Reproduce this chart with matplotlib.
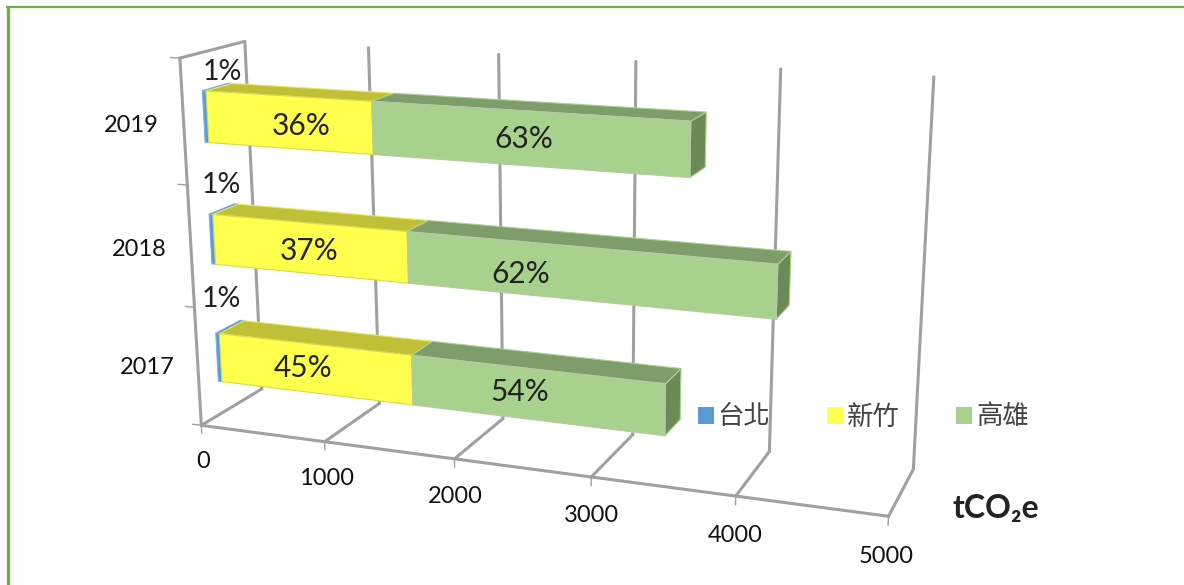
import numpy as np
import matplotlib
matplotlib.use('Agg')
import matplotlib.pyplot as plt
from matplotlib.patches import Patch
from matplotlib.lines import Line2D
from mpl_toolkits.mplot3d import Axes3D

# data
years = ['2017', '2018', '2019']
taipei = [30, 30, 30]
hsinchu = [1540, 1530, 1290]
kaohsiung = [1860, 2610, 2255]
pct_taipei = ['1%', '1%', '1%']
pct_hsinchu = ['45%', '37%', '36%']
pct_kaohsiung = ['54%', '62%', '63%']
series_names = ['台北', '新竹', '高雄']
x_ticks = [0, 1000, 2000, 3000, 4000, 5000]

# where the labels sit on the bars (value, category height)
taipei_label_x = [60, 110, 170]
taipei_label_z = [1.0, 0.952, 0.862]
hsinchu_label_x = [705, 795, 775]
hsinchu_label_z = [0.485, 0.475, 0.475]
kaohsiung_label_x = [2380, 2395, 2425]
kaohsiung_label_z = [0.504, 0.443, 0.487]

W, H = 1184, 585
plt.rcParams['font.family'] = ['Lato', 'Noto Sans CJK TC', 'DejaVu Sans']

fig = plt.figure(figsize=(W / 100, H / 100), dpi=100, facecolor='white')
ax = fig.add_axes([0, 0, 1, 1], projection='3d', computed_zorder=False, proj_type='ortho')
ax.apply_aspect = lambda position=None: None
ax.set_axis_off()

# camera: box corners (value, depth, category height) -> pixel, from the picture
calib = [
    (0, 0, 0, 200.7, 425), (1, 0, 0, 325, 442.7), (4, 0, 0, 735.7, 495.7), (5, 0, 0, 888.7, 515.7),
    (0, 1, 0, 261.7, 389), (1, 1, 0, 380, 402.7), (4, 1, 0, 769, 451.7), (5, 1, 0, 913.3, 470),
    (0, 0, 3, 180, 58.3), (0, 1, 3, 245, 41.7), (1, 1, 3, 368, 47.3), (4, 1, 3, 781, 69),
    (5, 1, 3, 933.7, 76.7),
]
rows = []
for cx, cy, cz, px, py in calib:
    rows.append([cx, cy, cz, 1, 0, 0, 0, 0, -px * cx, -px * cy, -px * cz, -px])
    rows.append([0, 0, 0, 0, cx, cy, cz, 1, -py * cx, -py * cy, -py * cz, -py])
cam = np.linalg.svd(np.array(rows))[2][-1].reshape(3, 4)
cam = cam / cam[2, 3]
cam[:, 0] /= 1000.0  # value axis in tCO2e

# pixel -> the 2D coords the 3d axes draws in
(u0, v0), (u1, v1) = (ax.transAxes + ax.transData.inverted()).transform([[0, 1], [1, 0]])
a, b = (u1 - u0) / W, u0
c, e = (v1 - v0) / H, v0
M = np.array([
    a * cam[0] + b * cam[2],
    c * cam[1] + e * cam[2],
    [0, 1, 0, 0],
    cam[2],
])
ax.get_proj = lambda: M

grey = '#a0a0a0'
lw = 2.2


def wall_line(xs, ys, zs, lw_=lw):
    ax.plot(xs, ys, zs, color=grey, lw=lw_, zorder=1, solid_capstyle='round')


for v in x_ticks:
    wall_line([v, v], [0, 1], [0, 0])
    wall_line([v, v], [1, 1], [0, 3])
    wall_line([v, v], [0, 0], [0, -0.07], 1.0)
wall_line([0, 5000], [0, 0], [0, 0])
wall_line([0, 0], [0, 0], [0, 3])
wall_line([0, 0], [0, 1], [3, 3])
for k in range(4):
    wall_line([0, -75], [0, 0], [k, k], 1.0)

hide = (0, 0, 0, 0)
depth_front, depth_back = 0.3, 0.7
bar_low, bar_high = 0.287, 0.7
faces = {
    'blue': [hide, '#4f86b8', '#5b9bd5', hide, hide, '#3f6f99'],
    'yellow': [hide, '#bfbf38', '#ffff4d', hide, hide, '#b0b030'],
    'green': [hide, '#7f9d6b', '#a9d18e', hide, hide, '#6b8a55'],
}
edges = {
    'blue': [hide, '#7fb0dd', '#7fb0dd', hide, hide, '#7fb0dd'],
    'yellow': [hide, '#e8e860', '#d8d850', hide, hide, '#e8e860'],
    'green': [hide, '#a9d18e', '#b5c9a8', hide, hide, '#a9d18e'],
}

for i, year in enumerate(years):
    left = 0
    for vals, name in ((taipei, 'blue'), (hsinchu, 'yellow'), (kaohsiung, 'green')):
        ax.bar3d(left, depth_front, i + bar_low, vals[i], depth_back - depth_front, bar_high - bar_low,
                 color=faces[name], edgecolor=edges[name], linewidth=0.8, shade=False, zorder=5 + i)
        left += vals[i]
    ax.text(hsinchu_label_x[i], depth_front, i + hsinchu_label_z[i], pct_hsinchu[i], fontsize=21.5, color='#222222',
            ha='center', va='center', zorder=20)
    ax.text(kaohsiung_label_x[i], depth_front, i + kaohsiung_label_z[i], pct_kaohsiung[i], fontsize=21.5,
            color='#222222', ha='center', va='center', zorder=20)
    ax.text(taipei_label_x[i], depth_front, i + taipei_label_z[i], pct_taipei[i], fontsize=20.5, color='#222222',
            ha='center', va='center', zorder=20)
    ax.text(-430, 0, i + 0.44, year, fontsize=17, color='#111111', ha='center', va='center', zorder=20)

for v in x_ticks:
    ax.text(v, 0, -0.31, str(v), fontsize=17, color='#111111', ha='center', va='center', zorder=20)

handles = [Patch(facecolor=col, edgecolor='none') for col in ('#5b9bd5', '#ffff4d', '#a9d18e')]
fig.legend(handles, series_names, loc='center left', bbox_to_anchor=(674 / W, 1 - 417 / H), ncol=3, frameon=False,
           fontsize=19, handlelength=0.6, handleheight=0.6, handletextpad=0.15, columnspacing=2.15,
           labelcolor='#444444')

fig.text(996 / W, 1 - 508 / H, 'tCO₂e', fontsize=23, fontweight='bold', color='#222222', ha='center', va='center')

# green frame
green = '#70ad47'
fig.add_artist(Line2D([7.5 / W, 7.5 / W], [0, 1 - 6 / H], color=green, lw=2.4, solid_capstyle='butt'))
fig.add_artist(Line2D([6 / W, 1], [1 - 6.5 / H, 1 - 6.5 / H], color=green, lw=1.6, solid_capstyle='butt'))

fig.savefig('out.png', dpi=100, facecolor='white')
